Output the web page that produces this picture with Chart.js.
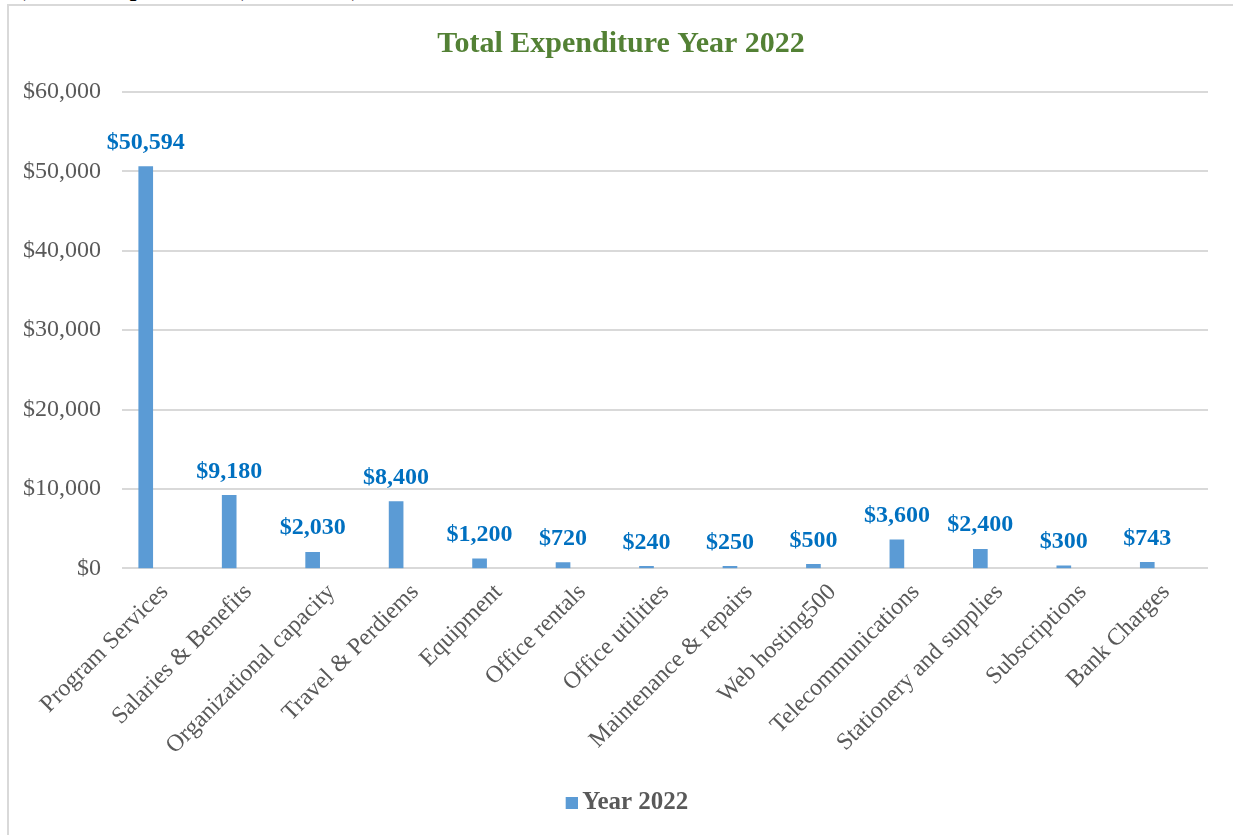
<!DOCTYPE html>
<html>
<head>
<meta charset="utf-8">
<script src="https://cdn.jsdelivr.net/npm/chart.js@4.4.1/dist/chart.umd.min.js"></script>
<style>
  html,body{margin:0;padding:0;background:#fff;width:1233px;height:835px;overflow:hidden;position:relative}
  #head{position:absolute;left:10px;top:-25px;font:bold 24px "Liberation Serif","Times New Roman",serif;color:#000;white-space:nowrap}
  #frame{position:absolute;left:7px;top:4px;width:1230px;height:840px;border:2px solid #d9d9d9;box-sizing:border-box;background:#fff}
  #chart{position:absolute;left:9px;top:6px}
</style>
</head>
<body>
<div id="head">b)&nbsp;&nbsp;Total Expenditure (USD, 2022)</div>
<div id="frame"></div>
<canvas id="chart" width="1224" height="829"></canvas>
<script>
const categories=['Program Services','Salaries & Benefits','Organizational capacity','Travel & Perdiems','Equipment','Office rentals','Office utilities','Maintenance & repairs','Web hosting500','Telecommunications','Stationery and supplies','Subscriptions','Bank Charges'];
const spending2022=[50594,9180,2030,8400,1200,720,240,250,500,3600,2400,300,743];
const yTicks=[0,10000,20000,30000,40000,50000,60000];

const serif='"Liberation Serif","Times New Roman",serif';
const barColor='#5b9bd5';
const money=v=>'$'+Number(v).toLocaleString('en-US');

// legend marker: a 12px square on the right end of a 32px strip,
// so it sits close to the legend text
const marker=document.createElement('canvas');
marker.width=32;marker.height=12;
marker.getContext('2d').fillStyle=barColor;
marker.getContext('2d').fillRect(20,0,12,12);

// horizontal gridlines, shifted a little right of the category band
const gridLines={
  id:'gridLines',
  beforeDatasetsDraw(chart){
    const {ctx,chartArea,scales:{y}}=chart;
    ctx.save();
    ctx.strokeStyle='#d9d9d9';
    ctx.lineWidth=2;
    y.ticks.forEach(t=>{
      const py=Math.round(y.getPixelForValue(t.value));
      ctx.beginPath();
      ctx.moveTo(chartArea.left+18,py);
      ctx.lineTo(chartArea.right+19,py);
      ctx.stroke();
    });
    ctx.restore();
  }
};

// writes the dollar amount over each bar
const valueLabels={
  id:'valueLabels',
  afterDatasetsDraw(chart){
    const ctx=chart.ctx;
    chart.data.datasets.forEach((ds,i)=>{
      chart.getDatasetMeta(i).data.forEach((bar,j)=>{
        ctx.save();
        ctx.font='bold 24px '+serif;
        ctx.fillStyle='#0070c0';
        ctx.textAlign='center';
        ctx.textBaseline='bottom';
        ctx.fillText(money(ds.data[j]),bar.x,bar.y-12);
        ctx.restore();
      });
    });
  }
};

new Chart(document.getElementById('chart'),{
  type:'bar',
  data:{labels:categories,datasets:[{label:'Year 2022',data:spending2022,backgroundColor:barColor,barThickness:14,pointStyle:marker}]},
  options:{
    responsive:false,animation:false,
    layout:{padding:{left:0,right:0,bottom:10}},
    plugins:{
      title:{display:true,text:'Total Expenditure Year 2022',color:'#538135',font:{family:serif,size:30,weight:'bold'},padding:{top:20,bottom:30}},
      legend:{position:'bottom',labels:{color:'#595959',font:{family:serif,size:25,weight:'bold'},usePointStyle:true,pointStyleWidth:16,boxHeight:12,padding:10}},
      tooltip:{enabled:false}
    },
    scales:{
      x:{
        grid:{display:false},
        border:{display:false},
        ticks:{color:'#595959',font:{family:serif,size:24},maxRotation:45,minRotation:45,labelOffset:19,padding:2},
        // the slanted labels may hang past the plot's left edge
        afterFit:s=>{s.paddingLeft=0;s.paddingRight=0;s.height+=18;}
      },
      y:{
        min:0,max:60000,
        afterBuildTicks:s=>{s.ticks=yTicks.map(v=>({value:v}));},
        grid:{display:false,drawTicks:false},
        border:{display:false},
        ticks:{color:'#595959',font:{family:serif,size:24},padding:3,callback:v=>money(v)},
        afterFit:s=>{s.width=95;}
      },
      // empty axis that keeps room on the right
      yRight:{
        position:'right',
        grid:{display:false},border:{display:false},ticks:{display:false},
        afterFit:s=>{s.width=44;}
      }
    }
  },
  plugins:[gridLines,valueLabels]
});
</script>
</body>
</html>
